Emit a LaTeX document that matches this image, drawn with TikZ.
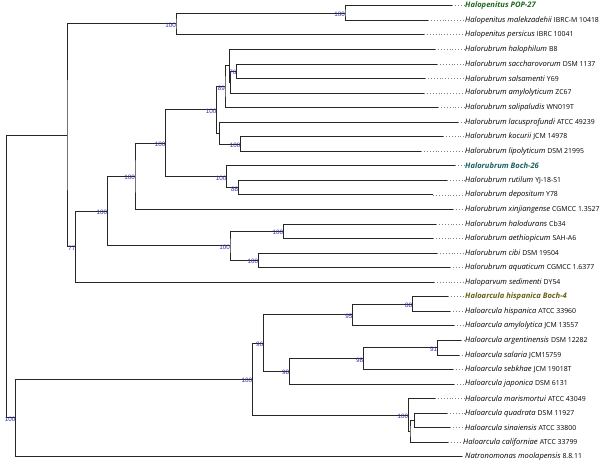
\documentclass[tikz,border=0pt]{standalone}
\usepackage{fontspec}
\setmainfont{Open Sans}
\newfontfamily\bsfont{Liberation Sans}
\newcommand{\strn}[1]{{\upshape\fontsize{6.9}{9}\selectfont #1}}
\definecolor{popgreen}{RGB}{30,105,30}
\definecolor{bochteal}{RGB}{25,95,95}
\definecolor{bocholive}{RGB}{100,95,20}
\definecolor{bsblue}{RGB}{50,50,165}
\begin{document}
\begin{tikzpicture}[x=1pt,y=-1pt,
  br/.style={line width=0.8pt,black!85},
  dotline/.style={line width=0.7pt,black!50,dash pattern=on 0.7pt off 2.2pt},
  leaf/.style={anchor=west,inner sep=0pt,font=\fontsize{7.6}{9}\selectfont},
  bs/.style={anchor=north east,inner sep=0pt,text=bsblue,font=\bsfont\fontsize{6.3}{7}\selectfont}]
\useasboundingbox (0,0) rectangle (600,466);
% leaf tips
\foreach \i/\x/\y in {1/452/5.70,2/428/20.25,3/424/34.80,4/435/49.35,5/437/63.90,6/425/78.45,7/424/93.00,8/438/107.55,9/458/122.10,10/443/136.65,11/421/151.20,12/455/165.75,13/447/180.30,14/433/194.85,15/453/209.40,16/436/223.95,17/433/238.50,18/437/253.05,19/450/267.60,20/434/282.15,21/448/296.70,22/450/311.25,23/454/325.80,24/461/340.35,25/459/354.90,26/453/369.45,27/454/384.00,28/435/398.55,29/447/413.10,30/450/427.65,31/448/442.20,32/462/456.75}
  {\coordinate (e\i) at (\x,\y);}
% leaf labels
\node[leaf,text=popgreen] (t1) at (465,5.70) {\bfseries\itshape Halopenitus POP-27};
\node[leaf] (t2) at (465,20.25) {\itshape Halopenitus malekzadehii\/ \strn{IBRC-M 10418}};
\node[leaf] (t3) at (465,34.80) {\itshape Halopenitus persicus\/ \strn{IBRC 10041}};
\node[leaf] (t4) at (465,49.35) {\itshape Halorubrum halophilum\/ \strn{B8}};
\node[leaf] (t5) at (465,63.90) {\itshape Halorubrum saccharovorum\/ \strn{DSM 1137}};
\node[leaf] (t6) at (465,78.45) {\itshape Halorubrum salsamenti\/ \strn{Y69}};
\node[leaf] (t7) at (465,93.00) {\itshape Halorubrum amylolyticum\/ \strn{ZC67}};
\node[leaf] (t8) at (465,107.55) {\itshape Halorubrum salipaludis\/ \strn{WN019T}};
\node[leaf] (t9) at (465,122.10) {\itshape Halorubrum lacusprofundi\/ \strn{ATCC 49239}};
\node[leaf] (t10) at (465,136.65) {\itshape Halorubrum kocurii\/ \strn{JCM 14978}};
\node[leaf] (t11) at (465,151.20) {\itshape Halorubrum lipolyticum\/ \strn{DSM 21995}};
\node[leaf,text=bochteal] (t12) at (465,165.75) {\bfseries\itshape Halorubrum Boch-26};
\node[leaf] (t13) at (465,180.30) {\itshape Halorubrum rutilum\/ \strn{YJ-18-S1}};
\node[leaf] (t14) at (465,194.85) {\itshape Halorubrum depositum\/ \strn{Y78}};
\node[leaf] (t15) at (465,209.40) {\itshape Halorubrum xinjiangense\/ \strn{CGMCC 1.3527}};
\node[leaf] (t16) at (465,223.95) {\itshape Halorubrum halodurans\/ \strn{Cb34}};
\node[leaf] (t17) at (465,238.50) {\itshape Halorubrum aethiopicum\/ \strn{SAH-A6}};
\node[leaf] (t18) at (465,253.05) {\itshape Halorubrum cibi\/ \strn{DSM 19504}};
\node[leaf] (t19) at (465,267.60) {\itshape Halorubrum aquaticum\/ \strn{CGMCC 1.6377}};
\node[leaf] (t20) at (465,282.15) {\itshape Haloparvum sedimenti\/ \strn{DY54}};
\node[leaf,text=bocholive] (t21) at (465,296.70) {\bfseries\itshape Haloarcula hispanica Boch-4};
\node[leaf] (t22) at (465,311.25) {\itshape Haloarcula hispanica\/ \strn{ATCC 33960}};
\node[leaf] (t23) at (465,325.80) {\itshape Haloarcula amylolytica\/ \strn{JCM 13557}};
\node[leaf] (t24) at (465,340.35) {\itshape Haloarcula argentinensis\/ \strn{DSM 12282}};
\node[leaf] (t25) at (465,354.90) {\itshape Haloarcula salaria\/ \strn{JCM15759}};
\node[leaf] (t26) at (465,369.45) {\itshape Haloarcula sebkhae\/ \strn{JCM 19018T}};
\node[leaf] (t27) at (465,384.00) {\itshape Haloarcula japonica\/ \strn{DSM 6131}};
\node[leaf] (t28) at (465,398.55) {\itshape Haloarcula marismortui\/ \strn{ATCC 43049}};
\node[leaf] (t29) at (465,413.10) {\itshape Haloarcula quadrata\/ \strn{DSM 11927}};
\node[leaf] (t30) at (465,427.65) {\itshape Haloarcula sinaiensis\/ \strn{ATCC 33800}};
\node[leaf] (t31) at (463,442.20) {\itshape Haloarcula californiae\/ \strn{ATCC 33799}};
\node[leaf] (t32) at (465,456.75) {\itshape Natronomonas moolapensis\/ \strn{8.8.11}};
\foreach \i in {1,...,32} {\draw[dotline] (e\i) -- (t\i.west);}
% internal nodes
\coordinate (n12) at (345,12.98);
\coordinate (n123) at (176,23.89);
\coordinate (n76) at (236.5,71.18);
\coordinate (nY) at (230.7,82.09);
\coordinate (nX) at (229.3,65.72);
\coordinate (n89) at (225,86.63);
\coordinate (nK) at (240.7,143.93);
\coordinate (nL) at (219.7,133.01);
\coordinate (nR) at (216.5,109.82);
\coordinate (n88) at (238.3,187.58);
\coordinate (nB) at (226.7,176.66);
\coordinate (nH) at (165.7,143.24);
\coordinate (nXJ) at (135,176.32);
\coordinate (nHD) at (283.3,231.23);
\coordinate (nCB) at (258.3,260.33);
\coordinate (nHC) at (230,245.78);
\coordinate (nA) at (107.3,211.05);
\coordinate (n77) at (75.7,246.60);
\coordinate (nTop) at (67,135.24);
\coordinate (n88b) at (412.3,303.98);
\coordinate (n95) at (352.7,314.89);
\coordinate (n91) at (437.3,347.63);
\coordinate (n98a) at (363.3,358.54);
\coordinate (n98b) at (289.3,371.27);
\coordinate (n96) at (263.3,343.08);
\coordinate (nQS) at (414.3,420.38);
\coordinate (nQSC) at (410,431.29);
\coordinate (nM) at (408.3,414.92);
\coordinate (nArc) at (252.3,379.00);
\coordinate (nN) at (15.7,417.88);
\coordinate (root) at (6.3,276.56);
% branches
\foreach \p/\a/\b in {n12/e1/e2,n123/n12/e3,n76/e5/e6,nY/n76/e7,nX/e4/nY,n89/nX/e8,nK/e10/e11,nL/e9/nK,nR/n89/nL,n88/e13/e14,nB/e12/n88,nH/nR/nB,nXJ/nH/e15,nHD/e16/e17,nCB/e18/e19,nHC/nHD/nCB,nA/nXJ/nHC,n77/nA/e20,nTop/n123/n77,n88b/e21/e22,n95/n88b/e23,n91/e24/e25,n98a/n91/e26,n98b/n98a/e27,n96/n95/n98b,nQS/e29/e30,nQSC/nQS/e31,nM/e28/nQSC,nArc/n96/nM,nN/nArc/e32,root/nTop/nN}
  {\draw[br] (\a) -| (\p) |- (\b);}
% bootstrap values
\foreach \p/\v in {n12/100,n123/100,n76/76,n89/89,nK/100,nR/100,n88/88,nB/100,nH/100,nXJ/100,nHD/100,nCB/100,nHC/100,nA/100,n77/77,n88b/88,n95/95,n91/91,n98a/98,n98b/98,n96/96,nM/100,nArc/100,nN/100}
  {\node[bs] (b\p) at ([yshift=1pt]\p) {\v};}
\end{tikzpicture}
\end{document}
